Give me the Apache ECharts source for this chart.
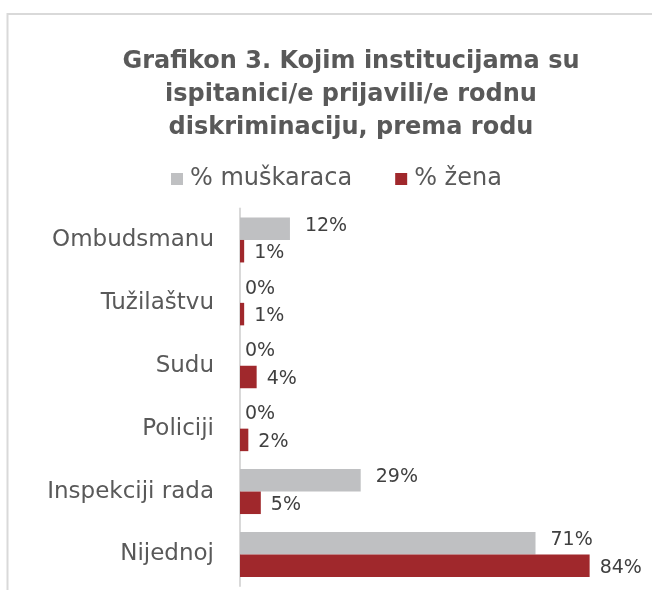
<!DOCTYPE html>
<html><head><meta charset="utf-8">
<script src="https://cdn.jsdelivr.net/npm/echarts@6/dist/echarts.min.js"></script>
<style>html,body{margin:0;padding:0;background:#fff}#c{width:652px;height:590px}</style>
</head><body><div id="c"></div>
<script>
const titleText = "Grafikon 3. Kojim institucijama su\nispitanici/e prijavili/e rodnu\ndiskriminaciju, prema rodu";
const categories = ["Ombudsmanu", "Tužilaštvu", "Sudu", "Policiji", "Inspekciji rada", "Nijednoj"];
const seriesNames = ["% muškaraca", "% žena"];
const men = [12, 0, 0, 0, 29, 71];
const women = [1, 1, 4, 2, 5, 84];

const chart = echarts.init(document.getElementById('c'), null, {renderer: 'canvas'});
const FONT = 'DejaVu Sans';
const withZeroLabel = (arr, d) => arr.map(v => v === 0 ? {value: v, label: {distance: d}} : v);
chart.setOption({
  animation: false,
  backgroundColor: '#fff',
  graphic: [{
    type: 'rect', silent: true, z: -1,
    shape: {x: 7.5, y: 14, width: 1000, height: 1000},
    style: {fill: 'none', stroke: '#d9d9d9', lineWidth: 2}
  }],
  title: {
    text: titleText,
    left: 346, top: 40, textAlign: 'center',
    textStyle: {fontFamily: FONT, fontSize: 24, fontWeight: 'bold', color: '#595959', lineHeight: 33}
  },
  legend: {
    data: seriesNames,
    top: 162, left: 166,
    itemWidth: 12, itemHeight: 12, itemGap: 43,
    icon: 'rect',
    textStyle: {fontFamily: FONT, fontSize: 24, color: '#595959', padding: [0,0,0,2]}
  },
  grid: {left: 240, top: 208.5, width: 374.6, height: 377.4, containLabel: false},
  xAxis: {
    type: 'value', min: 0, max: 90, show: false
  },
  yAxis: {
    type: 'category', data: categories, inverse: true,
    axisLine: {show: true, lineStyle: {color: '#d9d9d9', width: 2}},
    axisTick: {show: false},
    axisLabel: {fontFamily: FONT, fontSize: 23, color: '#595959', margin: 26}
  },
  series: [{
    name: seriesNames[0], type: 'bar', data: withZeroLabel(men, 5),
    barWidth: 22.5, barGap: '0%',
    itemStyle: {color: '#bfc0c2'},
    label: {show: true, position: 'right', distance: 15, offset: [0, -3], formatter: '{c}%',
      fontFamily: FONT, fontSize: 19, color: '#404040'}
  }, {
    name: seriesNames[1], type: 'bar', data: women,
    barWidth: 22.5, barGap: '0%',
    itemStyle: {color: '#a0282c'},
    label: {show: true, position: 'right', distance: 10, offset: [0, 2], formatter: '{c}%',
      fontFamily: FONT, fontSize: 19, color: '#404040'}
  }]
});
</script></body></html>
